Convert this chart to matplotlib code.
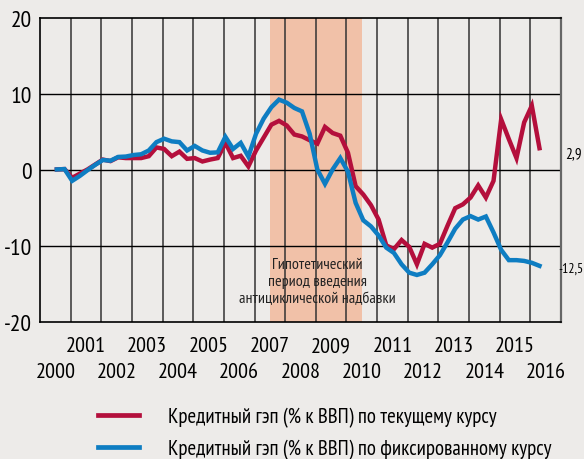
import numpy as np
import matplotlib
matplotlib.use('Agg')
import matplotlib.pyplot as plt
from matplotlib import transforms

# Кредитный гэп, % к ВВП, квартальные данные с середины 2000 г.
start_year = 2000.55
gap_current = [0.1, 0.15, -1.0, -0.45, 0.1, 0.75, 1.4, 1.2, 1.7, 1.6, 1.6, 1.6,
               1.85, 3.0, 2.8, 1.85, 2.45, 1.5, 1.6, 1.15, 1.4, 1.6, 3.6, 1.6,
               1.9, 0.5, 2.6, 4.3, 6.0, 6.5, 5.9, 4.7, 4.45, 3.95, 3.5, 5.7,
               4.9, 4.55, 2.3, -2.1, -3.2, -4.6, -6.5, -9.9, -10.4, -9.2, -10.1, -12.4,
               -9.7, -10.2, -9.7, -7.3, -5.0, -4.5, -3.6, -2.0, -3.6, -1.4, 6.7, 4.1,
               1.6, 6.3, 8.5, 2.9]
gap_fixed = [0.1, 0.15, -1.4, -0.75, 0.0, 0.7, 1.35, 1.25, 1.75, 1.8, 2.0, 2.1,
             2.6, 3.7, 4.15, 3.8, 3.7, 2.6, 3.2, 2.6, 2.3, 2.35, 4.4, 2.8,
             3.6, 1.8, 4.8, 6.8, 8.3, 9.3, 8.9, 8.2, 7.75, 4.8, 0.1, -1.8,
             0.1, 1.6, -0.2, -4.3, -6.6, -7.4, -8.6, -10.2, -10.9, -12.4, -13.5, -13.8,
             -13.5, -12.4, -11.2, -9.5, -7.7, -6.5, -6.05, -6.5, -6.1, -8.2, -10.5, -11.85,
             -11.85, -11.95, -12.2, -12.6]
years = list(range(2000, 2017))
yticks = [20, 10, 0, -10, -20]
buffer_period = (2007.5, 2010.5)
last_labels = ['2,9', '-12,5']
legend_labels = ['Кредитный гэп (% к ВВП) по текущему курсу',
                 'Кредитный гэп (% к ВВП) по фиксированному курсу']
note = 'Гипотетический\nпериод введения\nантициклической надбавки'

red = '#B40F3C'
blue = '#0E7DC2'
bg = '#EDEBE9'

plt.rcParams['font.family'] = ['PT Sans Narrow', 'DejaVu Sans']

x = start_year + 0.25 * np.arange(len(gap_current))

fig = plt.figure(figsize=(5.84, 4.60), dpi=100, facecolor=bg)
ax = fig.add_axes([0.0685, 0.2978, 0.892, 0.660], facecolor=bg)

ax.axvspan(*buffer_period, color='#F1C1A8', lw=0, zorder=0)
for yr in years[1:]:
    ax.axvline(yr, color='#333333', lw=1.1, zorder=1)
for v in [10, 0, -10]:
    ax.axhline(v, color='black', lw=1.0, zorder=1)

ax.plot(x, gap_current, color=red, lw=3.2, zorder=3, solid_joinstyle='miter')
ax.plot(x, gap_fixed, color=blue, lw=3.2, zorder=4, solid_joinstyle='miter')

ax.set_xlim(2000, 2017)
ax.set_ylim(-20, 20)
for s in ['left', 'bottom', 'top']:
    ax.spines[s].set_color('black')
    ax.spines[s].set_linewidth(1.2)
ax.spines['right'].set_color('#666666')
ax.spines['right'].set_linewidth(1.6)

ax.set_yticks(yticks)
ax.set_yticklabels([str(v) for v in yticks])
ax.tick_params(axis='y', length=0, pad=6, labelsize=17)

even = [y for y in years if y % 2 == 0]
odd = [y for y in years if y % 2 == 1]
ax.set_xticks([y + 0.5 for y in even])
ax.set_xticklabels([str(y) for y in even])
ax.set_xticks([y + 0.5 for y in odd], minor=True)
ax.set_xticklabels([str(y) for y in odd], minor=True)
ax.tick_params(axis='x', which='major', length=0, pad=29, labelsize=16)
ax.tick_params(axis='x', which='minor', length=0, pad=10, labelsize=16)

ax.text(2009.05, -14.6, note, ha='center', va='center', fontsize=11.5,
        linespacing=1.25, color='#222222', zorder=5)

tr = transforms.blended_transform_factory(fig.transFigure, ax.transData)
ax.text(0.968, 2.2, last_labels[0], ha='left', va='center', fontsize=11,
        transform=tr, clip_on=False)
ax.text(0.999, -12.9, last_labels[1], ha='right', va='center', fontsize=10,
        transform=tr, clip_on=False)

handles = [plt.Line2D([], [], color=red, lw=3.4),
           plt.Line2D([], [], color=blue, lw=3.4)]
fig.legend(handles, legend_labels, loc='upper left', bbox_to_anchor=(0.167, 0.114),
           frameon=False, fontsize=15, handlelength=2.0, handletextpad=1.4,
           labelspacing=0.6, borderaxespad=0, borderpad=0)

fig.savefig('out.png', dpi=100, facecolor=bg)
